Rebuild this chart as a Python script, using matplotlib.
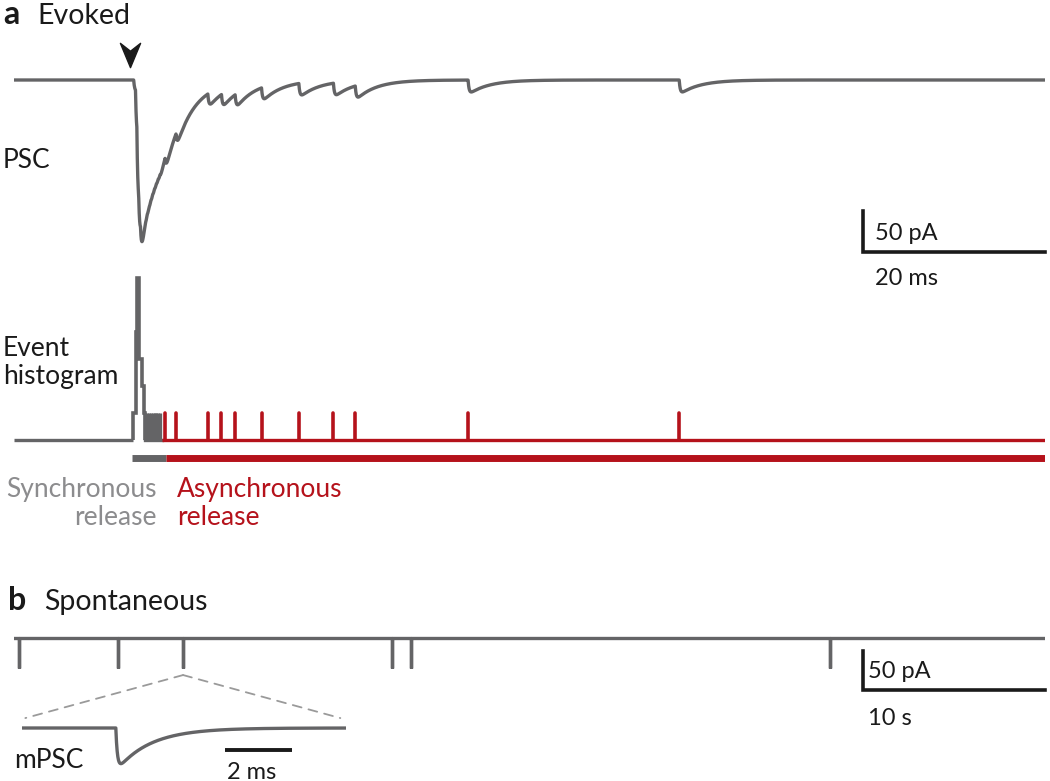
import matplotlib
matplotlib.use("Agg")
import matplotlib.pyplot as plt
import numpy as np
from matplotlib.patches import ConnectionPatch
from matplotlib.path import Path

W, H = 1050, 781

GRAY = "#646466"
LIGHT = "#8c8c8e"
RED = "#b5121b"
BLACK = "#1a1a1a"

# evoked PSC (ms, pA)
t_lo, t_hi = -13.1, 100.2
stim_time = -0.3
sync_times = [0.05, 0.25, 0.4, 0.6, 0.8]
sync_weights = [1, 4, 6, 3, 2]
sync_quantum = 16.5
block_times = [1.35, 1.55, 1.75, 1.95, 2.15, 2.35, 2.55, 2.75, 2.95]
block_amp = 6.0
async_times = [3.5, 4.7, 8.2, 9.7, 11.2, 14.1, 18.2, 22.0, 24.4, 36.8, 60.0]
async_amp = 18.0
rise_tau, decay_tau = 0.12, 2.2

# event histogram (ms, counts)
hist_edges = [0.0, 0.3, 0.4, 0.65, 0.95, 1.2, 1.27]
hist_counts = [1, 4, 6, 3, 2, 1]
async_start = 3.15
sync_bar = (-0.1, 3.6)

# spontaneous events (s, pA)
spont_lo, spont_hi = 0.0, 56.65
spont_times = [0.27, 5.69, 9.29, 20.77, 21.81, 44.84]
spont_amp = 38.5

# mPSC inset (ms, pA)
mini_lo, mini_hi = 0.0, 9.67
mini_time = 2.8
mini_amp = 46.0
mini_rise, mini_decay = 0.05, 1.0

plt.rcParams["font.family"] = ["Lato", "DejaVu Sans"]
plt.rcParams["font.size"] = 19


def kernel(t, tr, td):
    tc = np.clip(t, 0, None)
    return np.where(t > 0, (1 - np.exp(-tc / tr)) * np.exp(-tc / td), 0.0)


def px_axes(fig, left, top, right, bottom):
    ax = fig.add_axes([left / W, 1 - bottom / H, (right - left) / W, (bottom - top) / H])
    ax.set_axis_off()
    return ax


def ftext(fig, x, y, s, **kw):
    kw.setdefault("va", "baseline")
    return fig.text(x / W, 1 - y / H, s, **kw)


fig = plt.figure(figsize=(W / 100, H / 100), dpi=100)

# --- panel a: PSC ---
ax_psc = px_axes(fig, 14, 80 - 35 * 0.82, 1045, 80 + 215 * 0.82)
ax_psc.set_xlim(t_lo, t_hi)
ax_psc.set_ylim(-215, 35)
t = np.arange(t_lo, t_hi, 0.01)
psc = np.zeros_like(t)
for ti, wi in zip(sync_times, sync_weights):
    psc -= wi * sync_quantum * kernel(t - ti, rise_tau, decay_tau)
for ti in block_times:
    psc -= block_amp * kernel(t - ti, rise_tau, decay_tau)
for ti in async_times:
    psc -= async_amp * kernel(t - ti, rise_tau, decay_tau)
ax_psc.plot(t, psc, color=GRAY, lw=2.4, solid_joinstyle="round")

arrow = Path([(0, -1), (-0.83, 1), (0, 0.35), (0.83, 1), (0, -1)],
             [Path.MOVETO, Path.LINETO, Path.LINETO, Path.LINETO, Path.CLOSEPOLY])
ax_psc.plot([stim_time], [30.5], marker=arrow, markersize=17.5, color=BLACK, clip_on=False)

# scale bar 50 pA / 20 ms
ax_psc.plot([80.2, 80.2, 100.2], [-160, -210, -210], color=BLACK, lw=2.6,
            solid_joinstyle="miter", clip_on=False)

# --- panel a: event histogram ---
ax_h = px_axes(fig, 14, 440 - 6.5 * 27, 1045, 440 + 27)
ax_h.set_xlim(t_lo, t_hi)
ax_h.set_ylim(-1.0, 6.5)
ax_h.plot([t_lo, hist_edges[0]], [0, 0], color=GRAY, lw=2.4, solid_capstyle="butt")
ax_h.stairs(hist_counts, hist_edges, baseline=0, color=GRAY, lw=2.6)
ax_h.plot([block_times[0] - 0.05, async_start], [0, 0], color=GRAY, lw=2.4)
ax_h.vlines(block_times, 0, 1, color=GRAY, lw=2.4)
ax_h.plot([async_start, t_hi], [0, 0], color=RED, lw=2.4, solid_capstyle="butt")
spikes = ax_h.vlines(async_times, 0, 1, color=RED, lw=2.6)
spikes.set_capstyle("round")
ax_h.plot([sync_bar[0], sync_bar[1]], [-0.685, -0.685], color=GRAY, lw=5, solid_capstyle="butt")
ax_h.plot([sync_bar[1], t_hi], [-0.685, -0.685], color=RED, lw=5, solid_capstyle="butt")

# --- panel b: spontaneous ---
ax_b = px_axes(fig, 14, 638 - 15 * 0.78, 1045, 638 + 75 * 0.78)
ax_b.set_xlim(spont_lo, spont_hi)
ax_b.set_ylim(-75, 15)
n = len(spont_times)
xs = np.concatenate([[spont_lo], np.repeat(spont_times, 3), [spont_hi]])
ys = np.concatenate([[0], np.tile([0, -spont_amp, 0], n), [0]])
ax_b.plot(xs, ys, color=GRAY, lw=2.4, solid_joinstyle="bevel")
ax_b.plot([46.65, 46.65, 56.65], [-16.7, -66.7, -66.7], color=BLACK, lw=2.6,
          solid_joinstyle="miter", clip_on=False)

# --- mPSC inset ---
ax_in = px_axes(fig, 22, 728 - 15 * 0.947, 346, 728 + 45 * 0.947)
ax_in.set_xlim(mini_lo, mini_hi)
ax_in.set_ylim(-45, 15)
tm = np.arange(mini_lo, mini_hi, 0.005)
ax_in.plot(tm, -mini_amp * kernel(tm - mini_time, mini_rise, mini_decay), color=GRAY, lw=2.4)
ax_in.plot([6.06, 8.06], [-23.2, -23.2], color=BLACK, lw=2.8, solid_capstyle="butt", clip_on=False)

for xb in (0.1, 9.5):
    con = ConnectionPatch(xyA=(spont_times[2], -spont_amp - 9), coordsA=ax_b.transData,
                          xyB=(xb, 10.5), coordsB=ax_in.transData,
                          color="#9a9a9a", lw=1.3, linestyle=(0, (5, 4)))
    fig.add_artist(con)

# --- text ---
ftext(fig, 3, 24, "a", fontsize=23, fontweight="bold", color=BLACK)
ftext(fig, 37, 24, "Evoked", fontsize=20.5, color=BLACK)
ftext(fig, 3, 168, "PSC", color=BLACK)
ftext(fig, 3, 356, "Event", color=BLACK)
ftext(fig, 3, 384, "histogram", color=BLACK)
ftext(fig, 157, 497, "Synchronous", color=LIGHT, ha="right")
ftext(fig, 157, 525, "release", color=LIGHT, ha="right")
ftext(fig, 177, 497, "Asynchronous", color=RED)
ftext(fig, 177, 525, "release", color=RED)
ftext(fig, 875, 240, "50 pA", fontsize=17, color=BLACK)
ftext(fig, 875, 285, "20 ms", fontsize=17, color=BLACK)
ftext(fig, 8, 610, "b", fontsize=23, fontweight="bold", color=BLACK)
ftext(fig, 44, 610, "Spontaneous", fontsize=20.5, color=BLACK)
ftext(fig, 868, 678, "50 pA", fontsize=17, color=BLACK)
ftext(fig, 868, 725, "10 s", fontsize=17, color=BLACK)
ftext(fig, 14, 768, "mPSC", color=BLACK)
ftext(fig, 227, 779, "2 ms", fontsize=17, color=BLACK)

fig.savefig("out.png", dpi=100)
